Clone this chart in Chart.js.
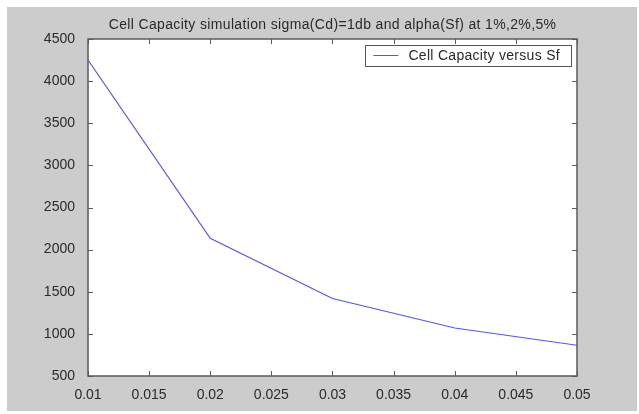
<!DOCTYPE html>
<html>
<head>
<meta charset="utf-8">
<script src="https://cdn.jsdelivr.net/npm/chart.js@4"></script>
<style>
  html, body { margin: 0; padding: 0; background: #fff; }
  #wrap { width: 639px; height: 414px; }
</style>
</head>
<body>
<div id="wrap"><canvas id="capChart"></canvas></div>
<script>
// data
const sf = [0.01, 0.02, 0.03, 0.04, 0.05];
const capacity = [4250, 2135, 1420, 1070, 865];
const xTicks = [0.01, 0.015, 0.02, 0.025, 0.03, 0.035, 0.04, 0.045, 0.05];
const yTicks = [500, 1000, 1500, 2000, 2500, 3000, 3500, 4000, 4500];
const titleText = 'Cell Capacity simulation sigma(Cd)=1db and alpha(Sf) at 1%,2%,5%';

const lineColor = 'rgb(85,85,245)';
const textColor = '#2a2a2a';
const axisColor = '#5a5a5a';
const fontFamily = '"Liberation Sans", Arial, sans-serif';

// grey figure background + white axes area, like a matlab figure
const figureBg = {
    id: 'figureBg',
    beforeDraw(chart) {
        const ctx = chart.ctx;
        const a = chart.chartArea;
        ctx.save();
        ctx.fillStyle = '#fff';
        ctx.fillRect(0, 0, chart.width, chart.height);
        ctx.fillStyle = '#cccccc';
        ctx.fillRect(7, 7, 630, 404);
        ctx.fillStyle = '#fff';
        ctx.fillRect(a.left, a.top, a.right - a.left, a.bottom - a.top);
        ctx.restore();
    }
};

// box round the axes, inward ticks on all four sides, title and legend
const axesBox = {
    id: 'axesBox',
    afterDatasetsDraw(chart) {
        const ctx = chart.ctx;
        const a = chart.chartArea;
        const xs = chart.scales.x, ys = chart.scales.y;
        const len = 5;
        ctx.save();
        ctx.strokeStyle = axisColor;
        ctx.lineWidth = 1;
        ctx.beginPath();
        xTicks.forEach(v => {
            const px = Math.round(xs.getPixelForValue(v)) + 0.5;
            ctx.moveTo(px, a.bottom); ctx.lineTo(px, a.bottom - len);
            ctx.moveTo(px, a.top); ctx.lineTo(px, a.top + len);
        });
        yTicks.forEach(v => {
            const py = Math.round(ys.getPixelForValue(v)) + 0.5;
            ctx.moveTo(a.left, py); ctx.lineTo(a.left + len, py);
            ctx.moveTo(a.right, py); ctx.lineTo(a.right - len, py);
        });
        ctx.stroke();
        ctx.lineWidth = 1.5;
        ctx.strokeRect(Math.round(a.left), Math.round(a.top), Math.round(a.right - a.left), Math.round(a.bottom - a.top));

        // title centred over the axes
        ctx.fillStyle = textColor;
        ctx.font = '14px ' + fontFamily;
        ctx.letterSpacing = '0.35px';
        ctx.textAlign = 'center';
        ctx.textBaseline = 'middle';
        ctx.fillText(titleText, (a.left + a.right) / 2, 25);

        // legend box in the upper right corner
        const ds = chart.data.datasets[0];
        ctx.letterSpacing = '0.3px';
        ctx.textAlign = 'left';
        const tw = ctx.measureText(ds.label).width;
        const bw = tw + 54, bh = 21;
        const bx = a.right - 6 - bw, by = a.top + 6;
        ctx.fillStyle = '#fff';
        ctx.fillRect(bx, by, bw, bh);
        ctx.lineWidth = 1;
        ctx.strokeStyle = '#555';
        ctx.strokeRect(Math.round(bx) + 0.5, Math.round(by) + 0.5, Math.round(bw), bh);
        ctx.strokeStyle = lineColor;
        ctx.beginPath();
        ctx.moveTo(bx + 8, by + 10.5); ctx.lineTo(bx + 33, by + 10.5);
        ctx.stroke();
        ctx.fillStyle = textColor;
        ctx.fillText(ds.label, bx + 43, by + bh / 2 + 0.5);
        ctx.letterSpacing = '0px';
        ctx.restore();
    }
};

const cap = document.getElementById('capChart').getContext('2d');
new Chart(cap, {
    type: 'line',
    data: {
        datasets: [{
            label: 'Cell Capacity versus Sf',
            data: sf.map((x, i) => ({ x: x, y: capacity[i] })),
            borderColor: lineColor,
            borderWidth: 1.2,
            pointRadius: 0,
            tension: 0,
            fill: false
        }]
    },
    options: {
        responsive: true,
        maintainAspectRatio: false,
        animation: false,
        layout: { padding: { left: 0, right: 62, top: 39, bottom: 0 } },
        scales: {
            x: {
                type: 'linear',
                min: 0.01,
                max: 0.05,
                afterBuildTicks: s => { s.ticks = xTicks.map(v => ({ value: v })); },
                afterFit: s => { s.height = 38; },
                grid: { display: false },
                border: { display: false },
                ticks: {
                    color: textColor,
                    font: { family: fontFamily, size: 14 },
                    padding: 3,
                    maxRotation: 0,
                    autoSkip: false,
                    callback: v => String(+v.toFixed(3))
                }
            },
            y: {
                min: 500,
                max: 4500,
                afterBuildTicks: s => { s.ticks = yTicks.map(v => ({ value: v })); },
                afterFit: s => { s.width = 88; },
                grid: { display: false },
                border: { display: false },
                ticks: {
                    color: textColor,
                    font: { family: fontFamily, size: 14 },
                    padding: 5,
                    callback: v => String(v)
                }
            }
        },
        plugins: {
            legend: { display: false },
            tooltip: { enabled: false },
            title: { display: false }
        }
    },
    plugins: [figureBg, axesBox]
});
</script>
</body>
</html>
